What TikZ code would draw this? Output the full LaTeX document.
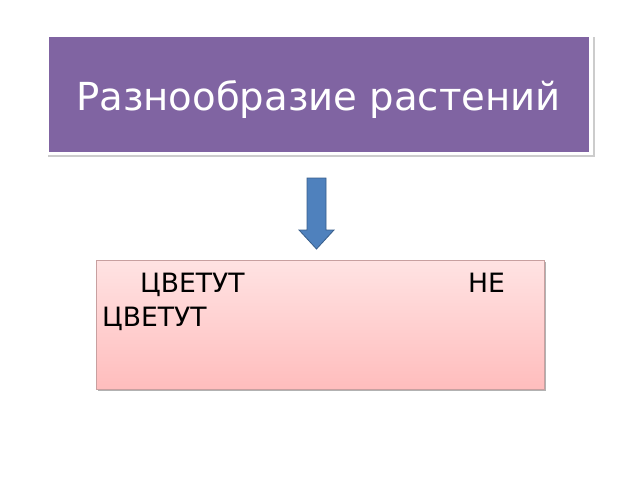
\documentclass[tikz,border=0pt]{standalone}
\usepackage{fontspec}
\setmainfont{DejaVu Sans}
\usetikzlibrary{calc}
\definecolor{titlepurple}{HTML}{8064A2}
\definecolor{arrowblue}{HTML}{4F81BD}
\definecolor{arrowedge}{HTML}{385D8A}
\definecolor{pinktop}{HTML}{FFE3E3}
\definecolor{pinkbot}{HTML}{FFBDBD}
\definecolor{pinkedge}{HTML}{C8A0A0}
\tikzset{
  titletext/.style={text=white,font=\fontsize{38.6}{46}\selectfont,inner sep=0pt,anchor=base west},
  bodytext/.style={text=black,font=\fontsize{26.6}{32}\selectfont,inner sep=0pt,anchor=base west},
}
\begin{document}
\begin{tikzpicture}[x=1pt,y=-1pt]
\useasboundingbox (0,0) rectangle (640,480);
% title box
\fill[black!20] (48,37) rectangle (595,157);
\fill[white] (46,35) rectangle (593,155);
\fill[titlepurple] (49,37) rectangle (589,152);
\node[titletext] (title) at (76,110) {Разнообразие растений};
% arrow
\draw[arrowedge,fill=arrowblue,line width=0.8pt]
  (307,178) -- (326,178) -- (326,230) -- (334,230) -- (316.5,249) -- (299,230) -- (307,230) -- cycle;
% pink box
\fill[black!30] (98,262) rectangle (546,391);
\shade[top color=pinktop,bottom color=pinkbot] (96,260) rectangle (544,389);
\draw[pinkedge,line width=0.6pt] (96,260) rectangle (544,389);
\node[bodytext] (c1) at (140,292) {ЦВЕТУТ};
\node[bodytext] (ne) at (468,292) {НЕ};
\node[bodytext] (c2) at (102,326) {ЦВЕТУТ};
\end{tikzpicture}
\end{document}
